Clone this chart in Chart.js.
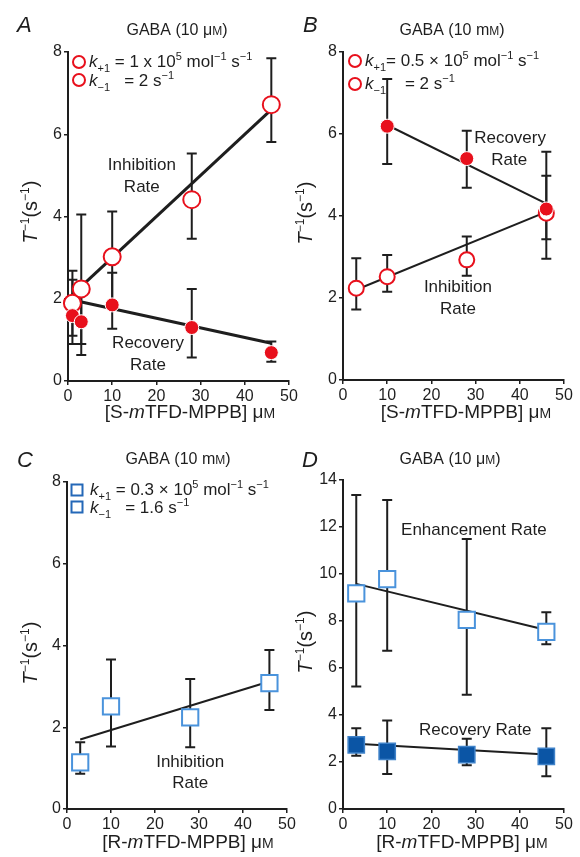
<!DOCTYPE html>
<html lang="en">
  <head>
    <meta charset="UTF-8" />
    <title>Rate plots</title>
    <script src="https://cdn.jsdelivr.net/npm/chart.js@4.4.1/dist/chart.umd.min.js"></script>
    <style>
      html, body { margin: 0; padding: 0; background: #fff; }
      body { width: 580px; height: 857px; position: relative; overflow: hidden; }
      canvas { position: absolute; left: 0; top: 0; }
    </style>
  </head>
  <body>
    <canvas id="pa" width="580" height="857"></canvas>
    <canvas id="pb" width="580" height="857"></canvas>
    <canvas id="pc" width="580" height="857"></canvas>
    <canvas id="pd" width="580" height="857"></canvas>
  <script>
    // ---- data ----
    const xTicks = [0, 10, 20, 30, 40, 50];

    // A: S-mTFD-MPPB, GABA 10 uM
    const xA = [1, 3, 10, 28, 46];
    const inhibA = [1.89, 2.24, 3.02, 4.41, 6.72];
    const inhibA_lo = [1.1, 0.9, 1.92, 3.46, 5.81];
    const inhibA_hi = [2.68, 4.05, 4.12, 5.53, 7.85];
    const recovA = [1.59, 1.44, 1.85, 1.3, 0.69];
    const recovA_lo = [0.9, 0.63, 1.27, 0.57, 0.47];
    const recovA_hi = [2.46, 2.24, 2.63, 2.24, 0.96];
    const fitInhibA = [[1, 2.1], [46, 6.6]];
    const fitRecovA = [[1, 1.97], [46, 0.92]];

    // B: S-mTFD-MPPB, GABA 10 mM
    const xB = [3, 10, 28, 46];
    const inhibB = [2.24, 2.52, 2.93, 4.07];
    const inhibB_lo = [1.72, 2.15, 2.54, 2.96];
    const inhibB_hi = [2.97, 3.05, 3.5, 5.57];
    const xB2 = [10, 28, 46];
    const recovB = [6.19, 5.4, 4.17];
    const recovB_lo = [5.27, 4.69, 3.43];
    const recovB_hi = [7.34, 6.08, 4.98];
    const fitInhibB = [[3, 2.2], [46, 4.1]];
    const fitRecovB = [[10, 6.22], [46, 4.3]];

    // C: R-mTFD-MPPB, GABA 10 mM
    const xC = [3, 10, 28, 46];
    const inhibC = [1.14, 2.51, 2.24, 3.08];
    const inhibC_lo = [0.86, 1.53, 1.51, 2.42];
    const inhibC_hi = [1.63, 3.66, 3.18, 3.89];
    const fitInhibC = [[3, 1.7], [46, 3.12]];

    // D: R-mTFD-MPPB, GABA 10 uM
    const xD = [3, 10, 28, 46];
    const enhD = [9.18, 9.78, 8.05, 7.54];
    const enhD_lo = [5.21, 6.73, 4.86, 7.01];
    const enhD_hi = [13.36, 13.15, 11.49, 8.37];
    const recovD = [2.73, 2.45, 2.31, 2.24];
    const recovD_lo = [2.27, 1.49, 1.86, 1.39];
    const recovD_hi = [3.44, 3.77, 2.99, 3.44];
    const fitEnhD = [[3, 9.58], [46, 7.62]];
    const fitRecovD = [[3, 2.78], [46, 2.32]];

    // ---- styling ----
    const FONT = '"Liberation Sans", Arial, sans-serif';
    const RED = "#e8101c";
    const LBLUE = "#4a93dc";
    const DBLUE = "#0b55a5";
    const INK = "#1e1e1e";

    const pts = (xs, ys) => xs.map((x, i) => ({ x: x, y: ys[i] }));
    const seg = (p) => p.map(([x, y]) => ({ x: x, y: y }));

    function fontFor(kind, size) {
      if (kind === "i") return `italic ${size}px ${FONT}`;
      if (kind === "sub" || kind === "sup") return `${Math.round(size * 0.62)}px ${FONT}`;
      if (kind === "sc") return `${Math.round(size * 0.74)}px ${FONT}`;
      return `${size}px ${FONT}`;
    }

    // draws text made of pieces: normal, italic, sub, sup, small caps
    function rich(ctx, x, y, parts, size, align) {
      const w = parts.map(([t, k]) => {
        ctx.font = fontFor(k, size);
        return ctx.measureText(t).width;
      });
      const total = w.reduce((a, b) => a + b, 0);
      let cx = align === "center" ? x - total / 2 : x;
      ctx.textAlign = "left";
      ctx.textBaseline = "alphabetic";
      parts.forEach(([t, k], i) => {
        ctx.font = fontFor(k, size);
        let dy = 0;
        if (k === "sub") dy = size * 0.3;
        if (k === "sup") dy = -size * 0.4;
        ctx.fillText(t, cx, y + dy);
        cx += w[i];
      });
    }

    const yTitle = [["T", "i"], ["−1", "sup"], ["(s", ""], ["−1", "sup"], [")", ""]];
    const xTitleS = [["[S-", ""], ["m", "i"], ["TFD-MPPB] μ", ""], ["M", "sc"]];
    const xTitleR = [["[R-", ""], ["m", "i"], ["TFD-MPPB] μ", ""], ["M", "sc"]];
    const titleUM = [["GABA (10 μ", ""], ["M", "sc"], [")", ""]];
    const titleMM = [["GABA (10 m", ""], ["M", "sc"], [")", ""]];

    const decos = {
      pa: {
        letter: ["A", 17, 32], title: [titleUM, 177, 35],
        yt: [30, 212], xt: [xTitleS, 190, 418],
        legend: { marker: "circle", x: 79, ys: [62, 80], tx: 89, base: [67, 86],
          lines: [
            [["k", "i"], ["+1", "sub"], [" = 1 x 10", ""], ["5", "sup"], [" mol", ""], ["−1", "sup"], [" s", ""], ["−1", "sup"]],
            [["k", "i"], ["−1", "sub"], ["   = 2 s", ""], ["−1", "sup"]],
          ] },
        notes: [["Inhibition", 16.7, 5.25], ["Rate", 16.7, 4.72], ["Recovery", 18.1, 0.92], ["Rate", 18.1, 0.39]],
        errors: [[xA, inhibA_lo, inhibA_hi], [xA, recovA_lo, recovA_hi]],
      },
      pb: {
        letter: ["B", 303, 32], title: [titleMM, 452, 35],
        yt: [305, 213], xt: [xTitleS, 466, 418],
        legend: { marker: "circle", x: 355, ys: [61, 84], tx: 365, base: [66, 89],
          lines: [
            [["k", "i"], ["+1", "sub"], ["= 0.5 × 10", ""], ["5", "sup"], [" mol", ""], ["−1", "sup"], [" s", ""], ["−1", "sup"]],
            [["k", "i"], ["−1", "sub"], ["    = 2 s", ""], ["−1", "sup"]],
          ] },
        notes: [["Recovery", 37.8, 5.9], ["Rate", 37.6, 5.37], ["Inhibition", 26, 2.27], ["Rate", 26, 1.73]],
        errors: [[xB, inhibB_lo, inhibB_hi], [xB2, recovB_lo, recovB_hi]],
      },
      pc: {
        letter: ["C", 17, 467], title: [titleMM, 178, 464],
        yt: [30, 653], xt: [xTitleR, 188, 848],
        legend: { marker: "square", x: 77, ys: [490, 507], tx: 90, base: [495, 513],
          lines: [
            [["k", "i"], ["+1", "sub"], [" = 0.3 × 10", ""], ["5", "sup"], [" mol", ""], ["−1", "sup"], [" s", ""], ["−1", "sup"]],
            [["k", "i"], ["−1", "sub"], ["   = 1.6 s", ""], ["−1", "sup"]],
          ] },
        notes: [["Inhibition", 28, 1.15], ["Rate", 28, 0.64]],
        errors: [[xC, inhibC_lo, inhibC_hi]],
      },
      pd: {
        letter: ["D", 302, 467], title: [titleUM, 450, 464],
        yt: [305, 642], xt: [xTitleR, 462, 848],
        legend: null,
        notes: [["Enhancement Rate", 29.6, 11.87], ["Recovery Rate", 29.9, 3.36]],
        errors: [[xD, enhD_lo, enhD_hi], [xD, recovD_lo, recovD_hi]],
      },
    };

    const decoPlugin = {
      id: "deco",
      beforeDatasetsDraw(chart) {
        const d = decos[chart.canvas.id];
        const ctx = chart.ctx;
        const sx = chart.scales.x, sy = chart.scales.y;
        ctx.save();
        ctx.strokeStyle = INK;
        ctx.lineWidth = 2;
        d.errors.forEach(([xs, lo, hi]) => {
          xs.forEach((x, i) => {
            const px = sx.getPixelForValue(x);
            const y1 = sy.getPixelForValue(lo[i]);
            const y2 = sy.getPixelForValue(hi[i]);
            ctx.beginPath();
            ctx.moveTo(px, y1); ctx.lineTo(px, y2);
            ctx.moveTo(px - 5, y1); ctx.lineTo(px + 5, y1);
            ctx.moveTo(px - 5, y2); ctx.lineTo(px + 5, y2);
            ctx.stroke();
          });
        });
        ctx.restore();
      },
      afterDraw(chart) {
        const d = decos[chart.canvas.id];
        const ctx = chart.ctx;
        const sx = chart.scales.x, sy = chart.scales.y;
        ctx.save();
        ctx.fillStyle = INK;

        // panel letter
        ctx.font = `italic 22px ${FONT}`;
        ctx.textAlign = "left";
        ctx.textBaseline = "alphabetic";
        ctx.fillText(d.letter[0], d.letter[1], d.letter[2]);

        rich(ctx, d.title[1], d.title[2], d.title[0], 16, "center");
        rich(ctx, d.xt[1], d.xt[2], d.xt[0], 19, "center");

        ctx.save();
        ctx.translate(d.yt[0], d.yt[1]);
        ctx.rotate(-Math.PI / 2);
        rich(ctx, 0, 7, yTitle, 20, "center");
        ctx.restore();

        // notes in data coords
        ctx.font = `17px ${FONT}`;
        ctx.textAlign = "center";
        ctx.textBaseline = "middle";
        d.notes.forEach(([t, x, y]) => {
          ctx.fillText(t, sx.getPixelForValue(x), sy.getPixelForValue(y));
        });

        if (d.legend) {
          const lg = d.legend;
          lg.ys.forEach((y, i) => {
            ctx.lineWidth = 2;
            ctx.fillStyle = "#fff";
            ctx.beginPath();
            if (lg.marker === "circle") {
              ctx.strokeStyle = RED;
              ctx.arc(lg.x, y, 6, 0, Math.PI * 2);
            } else {
              ctx.strokeStyle = "#2468b8";
              ctx.rect(lg.x - 5.5, y - 5.5, 11, 11);
            }
            ctx.fill();
            ctx.stroke();
            ctx.fillStyle = INK;
            rich(ctx, lg.tx, lg.base[i], lg.lines[i], 17, "left");
          });
        }
        ctx.restore();
      },
    };

    function makePanel(id, area, ymax, datasets) {
      const W = 30, H = 25;
      new Chart(document.getElementById(id), {
        type: "scatter",
        data: { datasets: datasets },
        plugins: [decoPlugin],
        options: {
          responsive: false,
          animation: false,
          events: [],
          layout: {
            padding: { left: area.l - W, right: 580 - area.r, top: area.t, bottom: 857 - area.b - H },
          },
          plugins: { legend: { display: false }, tooltip: { enabled: false } },
          scales: {
            x: {
              type: "linear", min: 0, max: 50,
              afterBuildTicks: (s) => { s.ticks = xTicks.map((v) => ({ value: v })); },
              afterFit: (s) => { s.height = H; },
              ticks: { font: { size: 16, family: FONT }, color: INK, padding: 2, maxRotation: 0 },
              grid: { drawOnChartArea: false, drawTicks: true, tickLength: 4, color: INK, lineWidth: 1.5 },
              border: { color: INK, width: 2 },
            },
            y: {
              type: "linear", min: 0, max: ymax,
              afterFit: (s) => { s.width = W; },
              ticks: { stepSize: 2, font: { size: 16, family: FONT }, color: INK, padding: 2 },
              grid: { drawOnChartArea: false, drawTicks: true, tickLength: 4, color: INK, lineWidth: 1.5 },
              border: { color: INK, width: 2 },
            },
          },
        },
      });
    }

    const fitLine = (p, w) => ({
      data: seg(p), showLine: true, pointRadius: 0, borderColor: INK, borderWidth: w, order: 3, clip: false,
    });
    const openCircle = (xs, ys, r) => ({
      data: pts(xs, ys), pointStyle: "circle", pointRadius: r, pointBorderWidth: 2,
      pointBorderColor: RED, pointBackgroundColor: "#fff", order: 1, clip: false,
    });
    const fullCircle = (xs, ys, r) => ({
      data: pts(xs, ys), pointStyle: "circle", pointRadius: r, pointBorderWidth: 1,
      pointBorderColor: "#fff", pointBackgroundColor: RED, order: 0, clip: false,
    });
    const openSquare = (xs, ys) => ({
      data: pts(xs, ys), pointStyle: "rect", pointRadius: 11.5, pointBorderWidth: 2,
      pointBorderColor: LBLUE, pointBackgroundColor: "#fff", order: 1, clip: false,
    });
    const fullSquare = (xs, ys) => ({
      data: pts(xs, ys), pointStyle: "rect", pointRadius: 11.5, pointBorderWidth: 1.5,
      pointBorderColor: "#3f82c9", pointBackgroundColor: DBLUE, order: 0, clip: false,
    });

    makePanel("pa", { l: 68, r: 289, t: 52, b: 381 }, 8, [
      fitLine(fitInhibA, 3), fitLine(fitRecovA, 3),
      openCircle(xA, inhibA, 8.5), fullCircle(xA, recovA, 7),
    ]);
    makePanel("pb", { l: 343, r: 564, t: 52, b: 380 }, 8, [
      fitLine(fitInhibB, 2), fitLine(fitRecovB, 2),
      openCircle(xB, inhibB, 7.5), fullCircle(xB2, recovB, 7),
    ]);
    makePanel("pc", { l: 67, r: 287, t: 482, b: 809 }, 8, [
      fitLine(fitInhibC, 2), openSquare(xC, inhibC),
    ]);
    makePanel("pd", { l: 343, r: 564, t: 480, b: 809 }, 14, [
      fitLine(fitEnhD, 2), fitLine(fitRecovD, 2),
      openSquare(xD, enhD), fullSquare(xD, recovD),
    ]);
  </script>
  </body>
</html>
